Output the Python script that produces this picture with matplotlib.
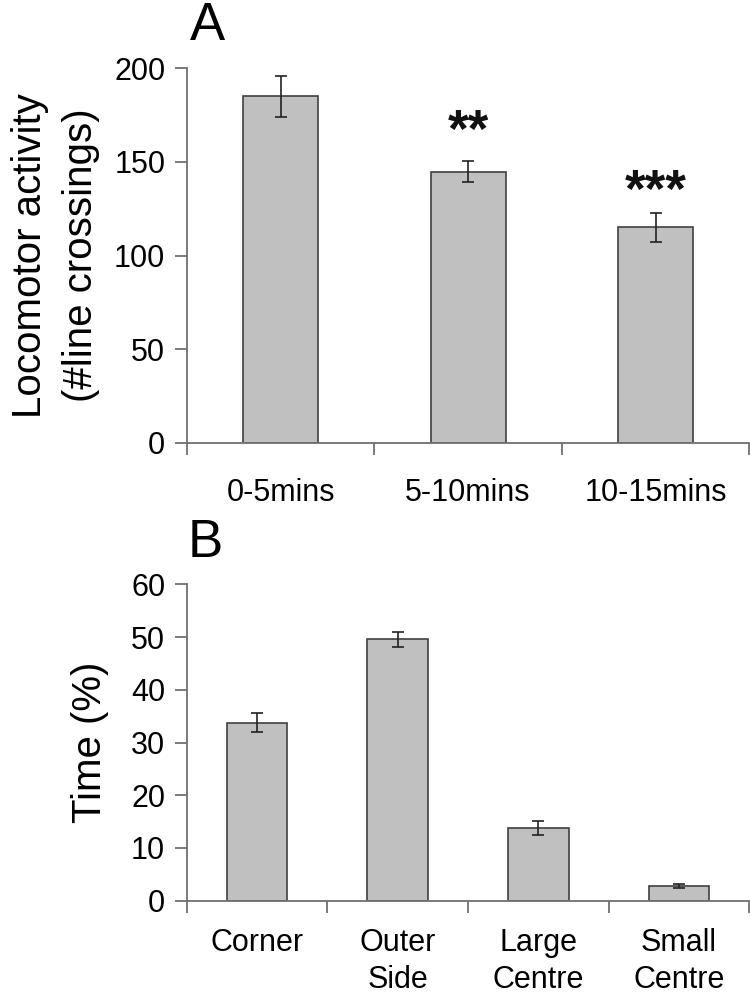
import matplotlib
matplotlib.use("Agg")
import matplotlib.pyplot as plt
import numpy as np

plt.rcParams['font.family'] = ['Liberation Sans', 'DejaVu Sans']

# Panel A data
a_categories = ["0-5mins", "5-10mins", "10-15mins"]
a_values = [185, 144.7, 115]
a_errors = [11, 5.5, 7.7]
a_stars = ["", "**", "***"]
a_star_y = [0, 158, 126]
a_yticks = [0, 50, 100, 150, 200]

# Panel B data
b_categories = ["Corner", "Outer\nSide", "Large\nCentre", "Small\nCentre"]
b_values = [33.7, 49.6, 13.8, 2.8]
b_errors = [1.8, 1.4, 1.4, 0.3]
b_yticks = [0, 10, 20, 30, 40, 50, 60]

BAR = "#c0c0c0"
EDGE = "#404040"
AX = "#707070"

fig = plt.figure(figsize=(7.5, 10), dpi=100)
axA = fig.add_axes([0.249, 0.557, 0.750, 0.375])
axB = fig.add_axes([0.249, 0.0993, 0.750, 0.3164])


def style(ax, n, labels, yticks, ymax, xpad, ls):
    x = np.arange(n)
    ax.set_xlim(-0.5, n - 0.5)
    ax.set_ylim(0, ymax)
    for s in ("top", "right"):
        ax.spines[s].set_visible(False)
    for s in ("left", "bottom"):
        ax.spines[s].set_color(AX)
        ax.spines[s].set_linewidth(1.3)
    ax.set_xticks(np.arange(n + 1) - 0.5)
    ax.set_xticklabels([])
    ax.set_xticks(x, minor=True)
    ax.set_xticklabels(labels, minor=True, fontsize=22, linespacing=ls)
    ax.tick_params(axis="x", which="major", direction="out", length=8.5,
                   width=1.3, color=AX)
    ax.tick_params(axis="x", which="minor", length=0, pad=xpad)
    ax.set_yticks(yticks)
    ax.set_yticklabels([str(t) for t in yticks], fontsize=22)
    ax.tick_params(axis="y", direction="out", length=8.5, width=1.3,
                   color=AX, pad=7)
    return x


x = style(axA, len(a_categories), a_categories, a_yticks, 200, 25, 1.3)
axA.bar(x, a_values, width=0.4, color=BAR, edgecolor=EDGE, linewidth=1.2,
        zorder=2)
axA.errorbar(x, a_values, yerr=a_errors, fmt="none", ecolor="#222222",
             elinewidth=1.2, capsize=4, capthick=1.2, zorder=3)
for xi, s, sy in zip(x, a_stars, a_star_y):
    if s:
        axA.text(xi, sy, s, ha="center", va="baseline", fontsize=38,
                 fontweight="bold", color="#111111")
axA.set_ylabel("Locomotor activity\n(#line crossings)", fontsize=29,
               linespacing=1.45, labelpad=10)

x = style(axB, len(b_categories), b_categories, b_yticks, 60, 20, 1.28)
axB.bar(x, b_values, width=0.43, color=BAR, edgecolor=EDGE, linewidth=1.2,
        zorder=2)
axB.errorbar(x, b_values, yerr=b_errors, fmt="none", ecolor="#222222",
             elinewidth=1.2, capsize=4, capthick=1.2, zorder=3)
axB.set_ylabel("Time (%)", fontsize=29, labelpad=16)

fig.text(0.276, 0.96, "A", fontsize=38, ha="center", va="baseline")
fig.text(0.273, 0.443, "B", fontsize=38, ha="center", va="baseline")

fig.savefig("out.png", dpi=100)
